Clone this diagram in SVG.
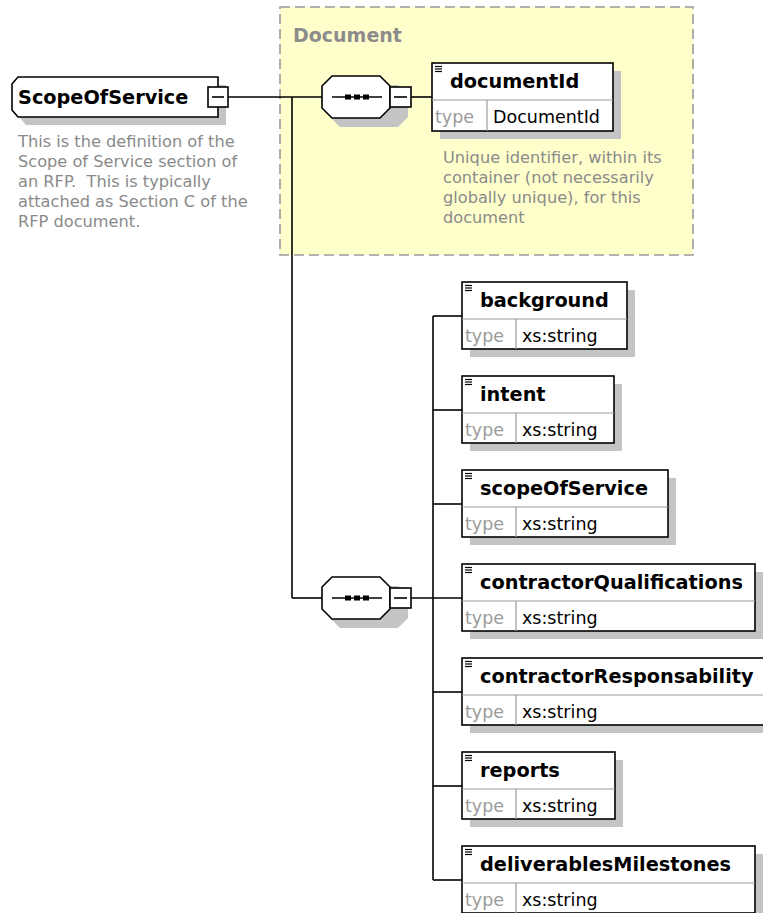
<svg xmlns="http://www.w3.org/2000/svg" width="763" height="913" viewBox="0 0 763 913">
<style>
.bg{fill:#ffffff}
.grp{fill:#ffffcc;stroke:#999999;stroke-width:1.6;stroke-dasharray:10 5}
.grptitle{font-family:"DejaVu Sans",Verdana,sans-serif;font-weight:bold;font-size:19px;fill:#8c8c8c}
.shadow{fill:#c4c4c4;stroke:none}
.box{fill:#ffffff;stroke:#000000;stroke-width:1.6}
.div{stroke:#9a9a9a;stroke-width:1.2;fill:none}
.name{font-family:"DejaVu Sans",Verdana,sans-serif;font-weight:bold;font-size:19.3px;fill:#000000}
.typel{font-family:"DejaVu Sans",Verdana,sans-serif;font-size:17.5px;fill:#9a9a9a}
.typev{font-family:"DejaVu Sans",Verdana,sans-serif;font-size:17.5px;fill:#000000}
.desc{font-family:"DejaVu Sans",Verdana,sans-serif;font-size:16.2px;fill:#8a8a8a;white-space:pre}
.icon{stroke:#000000;stroke-width:1.2}
.conn{stroke:#000000;stroke-width:1.6;fill:none}
.minus{fill:#ffffff;stroke:#000000;stroke-width:1.6}
.dot{fill:#000000}
</style>
<defs>
<g id="seq">
<polygon class="shadow" points="340,-12 398,-12 408,-2 408,20 398,30 340,30 330,20 330,-2" transform="translate(0,0)"/>
<polygon class="box" points="332,-21 380,-21 390,-11 390,11 380,21 332,21 322,11 322,-11"/>
<line class="conn" x1="332" y1="0" x2="382" y2="0"/>
<rect class="dot" x="345" y="-2.5" width="6" height="5"/>
<rect class="dot" x="354" y="-2.5" width="6" height="5"/>
<rect class="dot" x="363" y="-2.5" width="6" height="5"/>
<rect class="minus" x="390" y="-10" width="21" height="20"/>
<line class="conn" x1="394" y1="0" x2="407" y2="0"/>
</g>
<g id="icon">
<line class="icon" x1="3" y1="3.5" x2="10" y2="3.5"/>
<line class="icon" x1="3" y1="6" x2="10" y2="6"/>
<line class="icon" x1="3" y1="8.5" x2="10" y2="8.5"/>
</g>
</defs>
<rect class="bg" x="0" y="0" width="763" height="913"/>

<g id="document-group">
<rect class="grp" x="280" y="7" width="413" height="248"/>
<text class="grptitle" x="293" y="42">Document</text>
</g>

<g id="connectors">
<line class="conn" x1="228" y1="97" x2="322" y2="97"/>
<line class="conn" x1="292" y1="97" x2="292" y2="598"/>
<line class="conn" x1="292" y1="598" x2="322" y2="598"/>
<line class="conn" x1="411" y1="97" x2="432" y2="97"/>
<line class="conn" x1="411" y1="598" x2="462" y2="598"/>
<line class="conn" x1="433" y1="316" x2="433" y2="880"/>
<line class="conn" x1="433" y1="316" x2="462" y2="316"/>
<line class="conn" x1="433" y1="410" x2="462" y2="410"/>
<line class="conn" x1="433" y1="504" x2="462" y2="504"/>
<line class="conn" x1="433" y1="692" x2="462" y2="692"/>
<line class="conn" x1="433" y1="786" x2="462" y2="786"/>
<line class="conn" x1="433" y1="880" x2="462" y2="880"/>
</g>

<g id="ScopeOfService">
<polygon class="shadow" points="26,85 226,85 226,125 26,125 20,118 20,92"/>
<polygon class="box" points="18,77 218,77 218,117 18,117 12,110 12,84"/>
<text class="name" x="18" y="104">ScopeOfService</text>
<rect class="minus" x="208" y="87" width="20" height="20"/>
<line class="conn" x1="212" y1="97" x2="224" y2="97"/>
<text class="desc" x="18" y="147">This is the definition of the</text>
<text class="desc" x="18" y="167">Scope of Service section of</text>
<text class="desc" x="18" y="187">an RFP.  This is typically</text>
<text class="desc" x="18" y="207">attached as Section C of the</text>
<text class="desc" x="18" y="227">RFP document.</text>
</g>

<g id="sequence1" transform="translate(0,97)">
<use href="#seq"/>
</g>

<g id="sequence2" transform="translate(0,598)">
<use href="#seq"/>
</g>

<g id="documentId" transform="translate(432,63)">
<rect class="shadow" x="8" y="8" width="181" height="68"/>
<rect class="box" x="0" y="0" width="181" height="68"/>
<line class="div" x1="0" y1="37" x2="181" y2="37"/>
<line class="div" x1="55" y1="37" x2="55" y2="68"/>
<use href="#icon"/>
<text class="name" x="18" y="25">documentId</text>
<text class="typel" x="3" y="60">type</text>
<text class="typev" x="61" y="60">DocumentId</text>
<text class="desc" x="11" y="100">Unique identifier, within its</text>
<text class="desc" x="11" y="120">container (not necessarily</text>
<text class="desc" x="11" y="140">globally unique), for this</text>
<text class="desc" x="11" y="160">document</text>
</g>

<g id="background" transform="translate(462,282)">
<rect class="shadow" x="8" y="8" width="165" height="67"/>
<rect class="box" x="0" y="0" width="165" height="67"/>
<line class="div" x1="0" y1="37" x2="165" y2="37"/>
<line class="div" x1="54" y1="37" x2="54" y2="67"/>
<use href="#icon"/>
<text class="name" x="18" y="25">background</text>
<text class="typel" x="3" y="60">type</text>
<text class="typev" x="60" y="60">xs:string</text>
</g>

<g id="intent" transform="translate(462,376)">
<rect class="shadow" x="8" y="8" width="152" height="67"/>
<rect class="box" x="0" y="0" width="152" height="67"/>
<line class="div" x1="0" y1="37" x2="152" y2="37"/>
<line class="div" x1="54" y1="37" x2="54" y2="67"/>
<use href="#icon"/>
<text class="name" x="18" y="25">intent</text>
<text class="typel" x="3" y="60">type</text>
<text class="typev" x="60" y="60">xs:string</text>
</g>

<g id="scopeOfService" transform="translate(462,470)">
<rect class="shadow" x="8" y="8" width="206" height="67"/>
<rect class="box" x="0" y="0" width="206" height="67"/>
<line class="div" x1="0" y1="37" x2="206" y2="37"/>
<line class="div" x1="54" y1="37" x2="54" y2="67"/>
<use href="#icon"/>
<text class="name" x="18" y="25">scopeOfService</text>
<text class="typel" x="3" y="60">type</text>
<text class="typev" x="60" y="60">xs:string</text>
</g>

<g id="contractorQualifications" transform="translate(462,564)">
<rect class="shadow" x="8" y="8" width="293" height="67"/>
<rect class="box" x="0" y="0" width="293" height="67"/>
<line class="div" x1="0" y1="37" x2="293" y2="37"/>
<line class="div" x1="54" y1="37" x2="54" y2="67"/>
<use href="#icon"/>
<text class="name" x="18" y="25">contractorQualifications</text>
<text class="typel" x="3" y="60">type</text>
<text class="typev" x="60" y="60">xs:string</text>
</g>

<g id="contractorResponsability" transform="translate(462,658)">
<rect class="shadow" x="8" y="8" width="310" height="67"/>
<rect class="box" x="0" y="0" width="310" height="67"/>
<line class="div" x1="0" y1="37" x2="310" y2="37"/>
<line class="div" x1="54" y1="37" x2="54" y2="67"/>
<use href="#icon"/>
<text class="name" x="18" y="25">contractorResponsability</text>
<text class="typel" x="3" y="60">type</text>
<text class="typev" x="60" y="60">xs:string</text>
</g>

<g id="reports" transform="translate(462,752)">
<rect class="shadow" x="8" y="8" width="153" height="67"/>
<rect class="box" x="0" y="0" width="153" height="67"/>
<line class="div" x1="0" y1="37" x2="153" y2="37"/>
<line class="div" x1="54" y1="37" x2="54" y2="67"/>
<use href="#icon"/>
<text class="name" x="18" y="25">reports</text>
<text class="typel" x="3" y="60">type</text>
<text class="typev" x="60" y="60">xs:string</text>
</g>

<g id="deliverablesMilestones" transform="translate(462,846)">
<rect class="shadow" x="8" y="8" width="293" height="67"/>
<rect class="box" x="0" y="0" width="293" height="67"/>
<line class="div" x1="0" y1="37" x2="293" y2="37"/>
<line class="div" x1="54" y1="37" x2="54" y2="67"/>
<use href="#icon"/>
<text class="name" x="18" y="25">deliverablesMilestones</text>
<text class="typel" x="3" y="60">type</text>
<text class="typev" x="60" y="60">xs:string</text>
</g>
</svg>
